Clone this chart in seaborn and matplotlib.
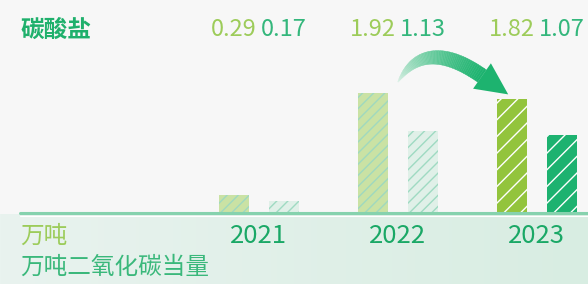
import numpy as np
import pandas as pd
import seaborn as sns
import matplotlib
matplotlib.use("Agg")
import matplotlib.pyplot as plt
import matplotlib.transforms as mtrans
from matplotlib.patches import Polygon
from matplotlib.colors import to_rgb

# data
years = ["2021", "2022", "2023"]
series_names = ["万吨", "万吨二氧化碳当量"]
carbonate_t = [0.29, 1.92, 1.82]
carbonate_co2e = [0.17, 1.13, 1.07]

df = pd.DataFrame({
    "year": years * 2,
    "series": [series_names[0]] * 3 + [series_names[1]] * 3,
    "value": carbonate_t + carbonate_co2e,
})

sns.set_theme(style="white")
plt.rcParams["font.family"] = ["Noto Sans CJK SC", "DejaVu Sans"]
plt.rcParams["hatch.linewidth"] = 1.0

W, H = 588, 284
fig = plt.figure(figsize=(W / 100, H / 100), dpi=100)
fig.patch.set_facecolor("#f7f7f7")

# background (grey top, green band under the baseline)
bg = fig.add_axes([0, 0, 1, 1], zorder=0)
img = np.zeros((H, W, 3))
img[:, :] = np.array(to_rgb("#f7f7f7"))
left_c = np.array(to_rgb("#e9f3ef"))
right_c = np.array(to_rgb("#d8ede2"))
t = np.linspace(0, 1, W)[:, None]
img[214:, :] = (left_c * (1 - t) + right_c * t)[None, :, :]
bg.imshow(img, extent=(0, W, H, 0), aspect="auto")
bg.set_xlim(0, W)
bg.set_ylim(H, 0)
bg.axis("off")

# bars: the two units each on their own scale (ax: 万吨, ax2: 万吨CO2e)
ax = fig.add_axes([20 / W, 71 / H, 568 / W, 153 / H], zorder=2)
ax.patch.set_alpha(0)
ax2 = ax.twinx()
pal = {series_names[0]: "#cae2a4", series_names[1]: "#dff0e7"}
for a in (ax, ax2):
    sns.barplot(data=df, x="year", y="value", hue="series", hue_order=series_names,
                order=years, width=0.72, gap=0.4, legend=False, ax=a,
                palette=pal, linewidth=0)

styles = {
    (0, False): ("#cae2a4", "#9fd9bf", "///"),
    (1, False): ("#e0f0e8", "#9fdac2", "///"),
    (0, True): ("#93c43d", "#ffffff", "//"),
    (1, True): ("#1db270", "#ffffff", "//"),
}
for ai, a in enumerate((ax, ax2)):
    for p in a.patches:
        cx = p.get_x() + p.get_width() / 2
        gi = int(round(cx))
        si = 0 if cx < gi else 1
        if si != ai:
            p.set_visible(False)
            continue
        face, hcol, hatch = styles[(si, gi == len(years) - 1)]
        p.set_facecolor(face)
        p.set_edgecolor(hcol)
        p.set_hatch(hatch)
        p.set_linewidth(0)

ax.set_xlim(-1.719, 2.367)
ax.set_ylim(0, 2.44)
ax2.set_ylim(0, 2.10)
for a in (ax, ax2):
    for s in a.spines.values():
        s.set_visible(False)
    a.set_xticks([])
    a.set_yticks([])
    a.set_xlabel("")
    a.set_ylabel("")
ax2.axhline(0, color="#86d2ae", lw=2.2, zorder=5, clip_on=False)

# overlay axes in pixel coordinates
ov = fig.add_axes([0, 0, 1, 1], zorder=3)
ov.set_xlim(0, W)
ov.set_ylim(H, 0)
ov.axis("off")
ov.plot([20, W], [215.5, 215.5], color="white", lw=0.8)

xy = mtrans.blended_transform_factory(ax.transData, ov.transData)
off = 0.18
for i, y in enumerate(years):
    ax.text(i, 236, y, transform=xy, ha="center", va="center",
            fontsize=18.5, color="#1aa866", zorder=10)
    ax.text(i - off, 30, f"{carbonate_t[i]:.2f}", transform=xy, ha="center",
            va="center", fontsize=17, color="#9dcc5a", fontweight="light")
    ax.text(i + off, 30, f"{carbonate_co2e[i]:.2f}", transform=xy, ha="center",
            va="center", fontsize=17, color="#34b77c", fontweight="light")

ov.text(21, 30, "碳酸盐", ha="left", va="center", fontsize=17,
        fontweight="bold", color="#1fb06c")
ov.text(20, 236, series_names[0], ha="left", va="center", fontsize=17,
        color="#9ccc5a")
ov.text(20, 267, series_names[1], ha="left", va="center", fontsize=17,
        color="#3ab87b")

# curved gradient arrow
P0 = np.array([398.0, 82.0])
P1 = np.array([425.0, 36.0])
P2 = np.array([482.0, 76.0])
n = 60
ts = np.linspace(0, 1, n + 1)
pts = ((1 - ts) ** 2)[:, None] * P0 + (2 * (1 - ts) * ts)[:, None] * P1 + (ts ** 2)[:, None] * P2
der = (2 * (1 - ts))[:, None] * (P1 - P0) + (2 * ts)[:, None] * (P2 - P1)
der /= np.linalg.norm(der, axis=1)[:, None]
nrm = np.stack([der[:, 1], -der[:, 0]], axis=1)
wid = 0.3 + 7.2 * (1 - (1 - ts) ** 3)
upper = pts + nrm * wid[:, None]
lower = pts - nrm * wid[:, None]
c0 = np.array(to_rgb("#e2f3ea"))
c1 = np.array(to_rgb("#1db36f"))
for k in range(n):
    tt = (ts[k] + ts[k + 1]) / 2
    col = c0 * (1 - tt ** 0.7) + c1 * tt ** 0.7
    quad = [upper[k], upper[k + 1], lower[k + 1], lower[k]]
    ov.add_patch(Polygon(quad, closed=True, facecolor=col, edgecolor=col, lw=0.3))
d = der[-1]
nn = nrm[-1]
head = [P2 + nn * 15.5, P2 - nn * 15.5, P2 + d * 32]
ov.add_patch(Polygon(head, closed=True, facecolor="#1db36f", edgecolor="none"))

fig.savefig("out.png", dpi=100, facecolor=fig.get_facecolor())
